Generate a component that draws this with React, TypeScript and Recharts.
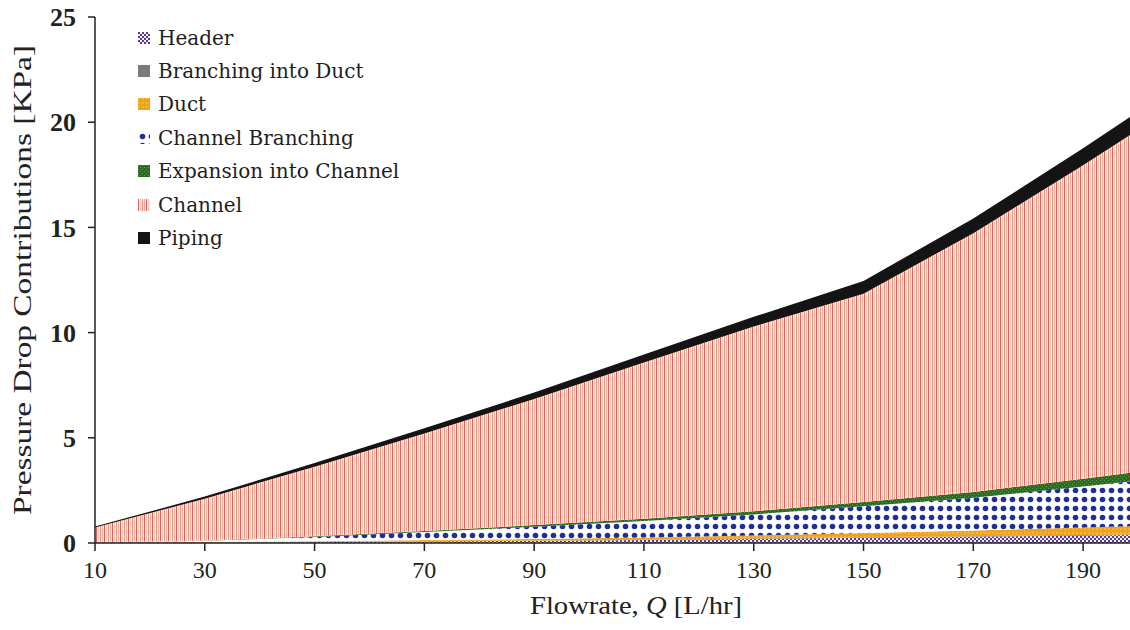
import React from 'react';
import { AreaChart, Area, XAxis, YAxis, Legend, Label } from 'recharts';

// flowrate Q [L/hr]
const flowrates = [10, 30, 50, 70, 90, 110, 130, 150, 170, 190, 200];

// pressure drop contributions [KPa]
const header = [0.01, 0.02, 0.04, 0.07, 0.1, 0.14, 0.19, 0.25, 0.3, 0.35, 0.38];
const branchingIntoDuct = [0.002, 0.005, 0.008, 0.01, 0.012, 0.015, 0.018, 0.02, 0.025, 0.028, 0.03];
const duct = [0.005, 0.02, 0.04, 0.06, 0.08, 0.11, 0.15, 0.2, 0.27, 0.36, 0.4];
const channelBranching = [0.01, 0.06, 0.2, 0.38, 0.58, 0.78, 1.0, 1.28, 1.55, 1.95, 2.15];
const expansionIntoChannel = [0.002, 0.01, 0.03, 0.05, 0.08, 0.11, 0.15, 0.2, 0.28, 0.37, 0.42];
const channel = [0.71, 1.99, 3.31, 4.64, 5.99, 7.42, 8.78, 9.9, 12.3, 14.9, 16.25];
const piping = [0.04, 0.1, 0.17, 0.24, 0.31, 0.38, 0.46, 0.6, 0.7, 0.8, 0.87];

const xTicks = [10, 30, 50, 70, 90, 110, 130, 150, 170, 190];
const yTicks = [0, 5, 10, 15, 20, 25];

const data = flowrates.map((q, i) => ({
  q,
  header: header[i],
  branchingIntoDuct: branchingIntoDuct[i],
  duct: duct[i],
  channelBranching: channelBranching[i],
  expansionIntoChannel: expansionIntoChannel[i],
  channel: channel[i],
  piping: piping[i],
}));

const SERIES = [
  { key: 'header', name: 'Header', fill: 'url(#patHeader)' },
  { key: 'branchingIntoDuct', name: 'Branching into Duct', fill: '#7b7b7b' },
  { key: 'duct', name: 'Duct', fill: 'url(#patDuct)' },
  { key: 'channelBranching', name: 'Channel Branching', fill: 'url(#patChBranch)' },
  { key: 'expansionIntoChannel', name: 'Expansion into Channel', fill: 'url(#patExpansion)' },
  { key: 'channel', name: 'Channel', fill: 'url(#patChannel)' },
  { key: 'piping', name: 'Piping', fill: '#141414' },
];

const SERIF = '"Liberation Serif", "DejaVu Serif", serif';

const renderLegend = () => (
  <div style={{ fontFamily: '"DejaVu Serif", serif', fontSize: 20, color: '#1e1e1e', textAlign: 'left' }}>
    {SERIES.map((s) => (
      <div key={s.key} style={{ display: 'flex', alignItems: 'center', height: 33.4 }}>
        <svg width={12} height={12} style={{ marginRight: 8 }}>
          <rect x={0} y={0} width={12} height={12} fill={s.fill} />
        </svg>
        <span>{s.name}</span>
      </div>
    ))}
  </div>
);

const YTitle = (props: any) => {
  const { viewBox } = props;
  const cx = 22;
  const cy = viewBox.y + viewBox.height / 2;
  return (
    <text
      x={cx}
      y={cy}
      transform={`rotate(-90 ${cx} ${cy})`}
      textAnchor="middle"
      dominantBaseline="central"
      fontFamily={SERIF}
      fontSize={25}
      fill="#222"
      textLength={470}
      lengthAdjust="spacingAndGlyphs"
    >
      Pressure Drop Contributions [KPa]
    </text>
  );
};

const XTitle = () => (
  <text
    x={636}
    y={605}
    textAnchor="middle"
    dominantBaseline="central"
    fontFamily={SERIF}
    fontSize={25}
    fill="#222"
    textLength={212}
    lengthAdjust="spacingAndGlyphs"
  >
    Flowrate, <tspan fontStyle="italic">Q</tspan> [L/hr]
  </text>
);

export default function App() {
  return (
    <div style={{ position: 'absolute', left: 0, top: 0, width: 1130, height: 630, overflow: 'hidden', background: '#fff' }}>
      <AreaChart width={1138} height={630} data={data} margin={{ top: 17, right: 0, bottom: 0, left: 0 }}>
        <defs>
          <pattern id="patHeader" width={4} height={4} patternUnits="userSpaceOnUse">
            <rect width={4} height={4} fill="#f4f0fa" />
            <rect x={0} y={0} width={2} height={2} fill="#5b3a94" />
            <rect x={2} y={2} width={2} height={2} fill="#5b3a94" />
          </pattern>
          <pattern id="patDuct" width={4} height={4} patternUnits="userSpaceOnUse">
            <rect width={4} height={4} fill="#eea21e" />
            <rect x={0} y={0} width={2} height={2} fill="#f6b53a" />
          </pattern>
          <pattern id="patChBranch" width={9} height={9} patternUnits="userSpaceOnUse">
            <rect width={9} height={9} fill="#ffffff" />
            <circle cx={4.5} cy={4.5} r={2.8} fill="#1f2f95" />
          </pattern>
          <pattern id="patExpansion" width={4} height={4} patternUnits="userSpaceOnUse">
            <rect width={4} height={4} fill="#2c6a2a" />
            <rect x={0} y={0} width={1} height={1} fill="#5c9a4c" />
            <rect x={2} y={2} width={1} height={1} fill="#5c9a4c" />
          </pattern>
          <pattern id="patChannel" width={8} height={4} patternUnits="userSpaceOnUse">
            <rect width={8} height={4} fill="#fdf1ef" />
            <rect x={0} y={0} width={1} height={4} fill="#e95a58" />
            <rect x={2} y={0} width={1} height={4} fill="#f8c6c0" />
            <rect x={4} y={0} width={1} height={4} fill="#f19a6e" />
            <rect x={6} y={0} width={1} height={4} fill="#f4aaa6" />
          </pattern>
        </defs>
        <XAxis
          dataKey="q"
          type="number"
          domain={[10, 200]}
          ticks={xTicks}
          height={87}
          tickSize={8}
          tickMargin={10}
          axisLine={{ stroke: '#222', strokeWidth: 1.5 }}
          tickLine={{ stroke: '#222', strokeWidth: 1.5 }}
          tick={{ fontFamily: SERIF, fontSize: 24, fill: '#222' }}
          label={<XTitle />}
        />
        <YAxis
          type="number"
          domain={[0, 25]}
          ticks={yTicks}
          width={95}
          tickSize={7}
          tickMargin={12}
          axisLine={{ stroke: '#222', strokeWidth: 1.5 }}
          tickLine={{ stroke: '#222', strokeWidth: 1.5 }}
          tick={{ fontFamily: SERIF, fontSize: 26, fontWeight: 'bold', fill: '#222' }}
        >
          <Label content={<YTitle />} />
        </YAxis>
        <Legend
          layout="vertical"
          align="center"
          verticalAlign="middle"
          content={renderLegend}
          wrapperStyle={{ position: 'absolute', left: 138, top: 21, width: 320 }}
        />
        {SERIES.map((s) => (
          <Area
            key={s.key}
            type="linear"
            dataKey={s.key}
            name={s.name}
            stackId="p"
            stroke="none"
            fill={s.fill}
            fillOpacity={1}
            dot={false}
            activeDot={false}
            isAnimationActive={false}
          />
        ))}
      </AreaChart>
    </div>
  );
}
